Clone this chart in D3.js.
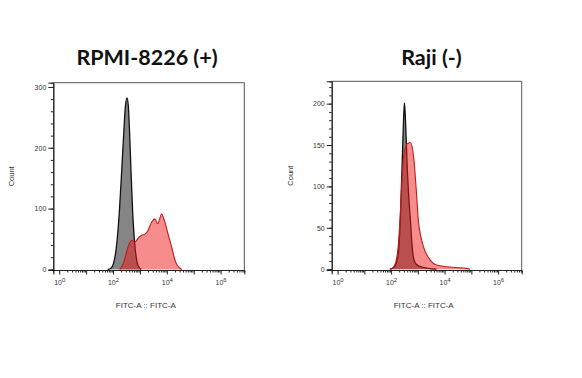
<!DOCTYPE html>
<html>
<head>
<meta charset="utf-8">
<script src="https://cdn.jsdelivr.net/npm/d3@7"></script>
<style>
  body { margin: 0; background: #fff; }
  svg { display: block; }
</style>
</head>
<body>
<div id="chart"></div>
<script>
// panel titles
const titles = ['RPMI-8226 (+)', 'Raji (-)'];

// histogram points: [log10(FITC-A), count]
const rpmiControl = [[1.80,0],[1.92,2],[2.02,10],[2.12,35],[2.22,85],[2.32,160],[2.40,225],[2.46,268],[2.52,282],[2.57,268],[2.62,220],[2.67,160],[2.73,95],[2.80,45],[2.88,15],[2.96,4],[3.05,0]];
const rpmiStained = [[2.25,0],[2.40,12],[2.55,36],[2.69,48],[2.81,45],[2.95,52],[3.06,56],[3.19,58],[3.30,64],[3.44,78],[3.56,83],[3.66,75],[3.81,91],[3.88,84],[3.94,76],[4.06,56],[4.19,35],[4.27,20],[4.36,9],[4.46,3],[4.56,0]];
const rajiControl = [[1.95,0],[2.10,2],[2.20,8],[2.28,22],[2.35,65],[2.42,135],[2.47,185],[2.50,201],[2.54,178],[2.60,125],[2.66,88],[2.72,60],[2.78,30],[2.85,12],[2.94,6],[3.10,3],[3.40,1],[3.70,0]];
const rajiStained = [[2.00,0],[2.10,3],[2.18,9],[2.26,26],[2.34,64],[2.40,105],[2.47,136],[2.59,151],[2.72,153],[2.84,136],[2.94,96],[3.02,58],[3.12,38],[3.21,27],[3.46,11],[3.70,5],[4.07,3],[4.44,2],[4.81,1],[4.95,0]];

// axis ticks
const decades = [0, 1, 2, 3, 4, 5, 6];
const labelledDecades = [0, 2, 4, 6];
const rpmiYTicks = [0, 100, 200, 300];
const rajiYTicks = [0, 50, 100, 150, 200];

const width = 582, height = 378;

const svg = d3.select('#chart').append('svg')
  .attr('width', width)
  .attr('height', height)
  .style('font-family', '"Liberation Sans", Arial, sans-serif');

function drawPanel(cfg) {
  const x = d3.scaleLog()
    .domain([Math.pow(10, -0.22), Math.pow(10, 6.88)])
    .range([cfg.left, cfg.right]);

  const y = d3.scaleLinear()
    .domain(cfg.yDomain)
    .range([cfg.bottom, cfg.top]);

  const g = svg.append('g');

  // title
  g.append('text')
    .attr('x', cfg.titleX)
    .attr('y', 65)
    .attr('text-anchor', 'middle')
    .style('font-family', 'Lato, "Open Sans", sans-serif')
    .style('font-weight', 'bold')
    .style('font-size', '21.5px')
    .attr('fill', '#111')
    .text(cfg.title);

  const area = d3.area()
    .x(d => x(Math.pow(10, d[0])))
    .y0(y(0))
    .y1(d => y(d[1]))
    .curve(d3.curveMonotoneX);

  const line = d3.line()
    .x(d => x(Math.pow(10, d[0])))
    .y(d => y(d[1]))
    .curve(d3.curveMonotoneX);

  // control (gray) under stained (red)
  g.append('path').datum(cfg.control)
    .attr('d', area)
    .attr('fill', '#858585');
  g.append('path').datum(cfg.control)
    .attr('d', line)
    .attr('fill', 'none')
    .attr('stroke', '#111')
    .attr('stroke-width', 1.3);

  g.append('path').datum(cfg.stained)
    .attr('d', area)
    .attr('fill', 'rgba(240,25,25,0.5)');
  g.append('path').datum(cfg.stained)
    .attr('d', line)
    .attr('fill', 'none')
    .attr('stroke', '#c41a1a')
    .attr('stroke-width', 1.1);

  // frame top/right
  g.append('path')
    .attr('d', `M${cfg.left},${cfg.top}H${cfg.right}V${cfg.bottom}`)
    .attr('fill', 'none')
    .attr('stroke', '#555')
    .attr('stroke-width', 1);

  // x axis minor ticks
  const minors = [];
  decades.forEach(e => { for (let k = 2; k <= 9; k++) minors.push(k * Math.pow(10, e)); });
  const xMinor = g.append('g')
    .attr('transform', `translate(0,${cfg.bottom})`)
    .call(d3.axisBottom(x).tickValues(minors.filter(v => v <= x.domain()[1])).tickSize(2.5).tickFormat(''));

  const xMajor = g.append('g')
    .attr('transform', `translate(0,${cfg.bottom})`)
    .call(d3.axisBottom(x).tickValues(decades.map(e => Math.pow(10, e))).tickSize(4.5).tickPadding(6).tickFormat(''));

  [xMinor, xMajor].forEach(ax => {
    ax.select('.domain').attr('stroke', '#222');
    ax.selectAll('.tick line').attr('stroke', '#222');
  });

  xMajor.selectAll('.tick text').each(function(d) {
    const e = Math.round(Math.log10(d));
    if (labelledDecades.indexOf(e) < 0) return;
    const t = d3.select(this)
      .attr('fill', '#333')
      .style('font-size', '7px');
    t.append('tspan').text('10');
    t.append('tspan').attr('dy', -3.5).style('font-size', '6px').text(e);
  });

  // y axis
  const yMinor = g.append('g')
    .attr('transform', `translate(${cfg.left},0)`)
    .call(d3.axisLeft(y).tickValues(d3.range(0, cfg.yDomain[1], cfg.yMinorStep)).tickSize(2.5).tickFormat(''));

  const yMajor = g.append('g')
    .attr('transform', `translate(${cfg.left},0)`)
    .call(d3.axisLeft(y).tickValues(cfg.yTicks).tickSize(5).tickPadding(2));

  [yMinor, yMajor].forEach(ax => {
    ax.select('.domain').attr('stroke', '#222');
    ax.selectAll('.tick line').attr('stroke', '#222');
  });
  yMajor.selectAll('.tick text')
    .attr('fill', '#333')
    .style('font-size', '7px');

  // axis labels
  g.append('text')
    .attr('transform', `translate(${cfg.left - 39},${(cfg.top + cfg.bottom) / 2}) rotate(-90)`)
    .attr('text-anchor', 'middle')
    .attr('fill', '#333')
    .style('font-size', '7.5px')
    .text('Count');

  g.append('text')
    .attr('x', (cfg.left + cfg.right) / 2 - 3)
    .attr('y', 308)
    .attr('text-anchor', 'middle')
    .attr('fill', '#333')
    .style('font-size', '8px')
    .text('FITC-A :: FITC-A');
}

drawPanel({
  title: titles[0], titleX: 147,
  left: 53.3, right: 244.3, top: 82.7, bottom: 270,
  yDomain: [-1, 307], yTicks: rpmiYTicks, yMinorStep: 20,
  control: rpmiControl, stained: rpmiStained
});

drawPanel({
  title: titles[1], titleX: 431.5,
  left: 331.7, right: 521.7, top: 81.3, bottom: 270,
  yDomain: [-1, 227], yTicks: rajiYTicks, yMinorStep: 10,
  control: rajiControl, stained: rajiStained
});
</script>
</body>
</html>
